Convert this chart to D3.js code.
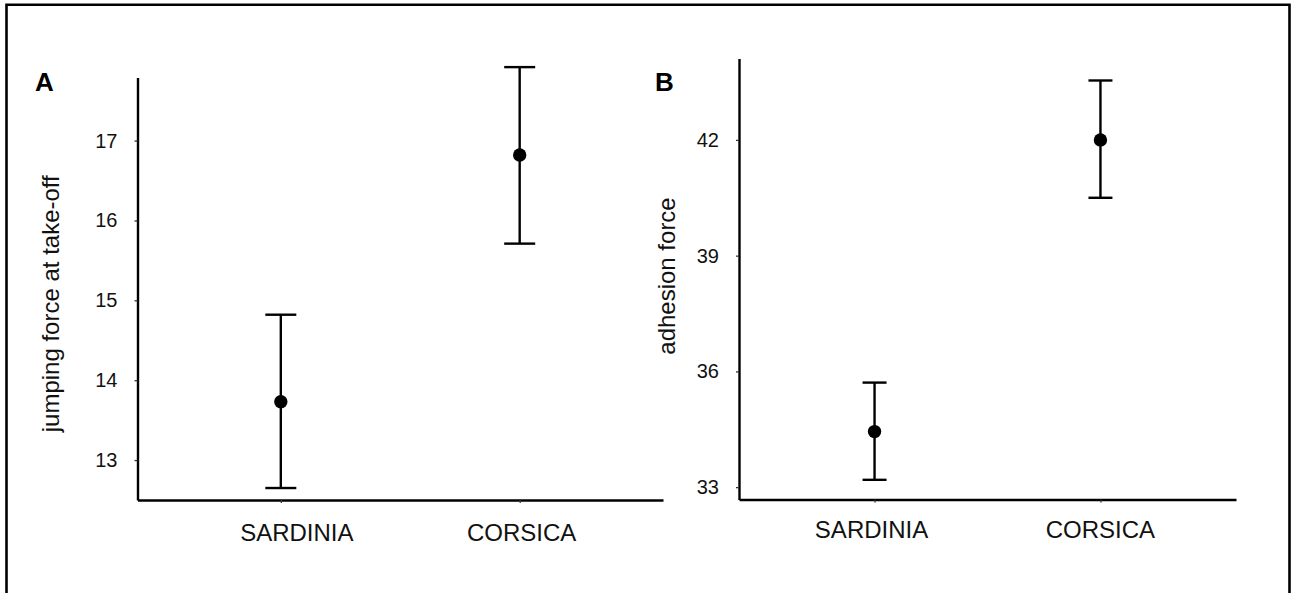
<!DOCTYPE html>
<html>
<head>
<meta charset="utf-8">
<script src="https://cdn.jsdelivr.net/npm/d3@7"></script>
<style>
	body { margin: 0; background: #fff; }
	svg { display: block; font-family: "Liberation Sans", Arial, sans-serif; }
	.axis .domain { stroke: #000; stroke-width: 2.4; }
	.axis .tick line { stroke: #333; stroke-width: 1.3; }
	.axis .tick text { fill: #111; font-size: 20px; }
</style>
</head>
<body>
<div id="graphic"></div>
<script>
// categories shared by both panels
const sites = ['SARDINIA', 'CORSICA'];

// panel A: jumping force at take-off (mean and error bar ends)
const jumpMean = [13.73, 16.82];
const jumpLow = [12.65, 15.71];
const jumpHigh = [14.82, 17.92];
const jumpTicks = [13, 14, 15, 16, 17];

// panel B: adhesion force
const adhMean = [34.44, 42.0];
const adhLow = [33.19, 40.50];
const adhHigh = [35.71, 43.54];
const adhTicks = [33, 36, 39, 42];

const width = 1292, height = 593;

const panels = [
	{
		letter: 'A', title: 'jumping force at take-off',
		mean: jumpMean, low: jumpLow, high: jumpHigh, ticks: jumpTicks,
		domain: [12.5, 17.79],
		xRange: [137.5, 663], yRange: [500, 77.5],
		letterX: 35, titleX: 59, capHalf: 15.5,
		labelY: 541, labelShift: [16, 2]
	},
	{
		letter: 'B', title: 'adhesion force',
		mean: adhMean, low: adhLow, high: adhHigh, ticks: adhTicks,
		domain: [32.68, 44.11],
		xRange: [739, 1236], yRange: [499.5, 58.5],
		letterX: 655, titleX: 675, capHalf: 12,
		labelY: 538, labelShift: [-3, 0]
	}
];

const svg = d3.select('#graphic')
	.append('svg')
	.attr('width', width)
	.attr('height', height);

// frame round the figure (open at the bottom)
svg.append('path')
	.attr('d', `M6.5,${height} V4.8 H1289.5 V${height}`)
	.attr('fill', 'none')
	.attr('stroke', '#000')
	.attr('stroke-width', 2.6);

panels.forEach(function (p) {

	const x = d3.scalePoint()
		.domain(sites)
		.range(p.xRange)
		.padding(0.6);

	const y = d3.scaleLinear()
		.domain(p.domain)
		.range(p.yRange);

	const rows = sites.map((s, i) => ({ site: s, mean: p.mean[i], low: p.low[i], high: p.high[i] }));

	// y axis
	svg.append('g')
		.attr('class', 'axis')
		.attr('transform', `translate(${p.xRange[0]},0)`)
		.call(d3.axisLeft(y).tickValues(p.ticks).tickSize(3).tickSizeOuter(0).tickPadding(17).tickFormat(d3.format('d')));

	// x axis, labels drawn separately below
	svg.append('g')
		.attr('class', 'axis')
		.attr('transform', `translate(0,${p.yRange[0]})`)
		.call(d3.axisBottom(x).tickSize(3).tickSizeOuter(0).tickFormat(''));

	svg.append('g')
		.selectAll('text')
		.data(sites)
		.join('text')
		.attr('x', (d, i) => x(d) + p.labelShift[i])
		.attr('y', p.labelY)
		.attr('text-anchor', 'middle')
		.attr('font-size', 24)
		.attr('fill', '#111')
		.text(d => d);

	// error bars
	const bars = svg.append('g')
		.selectAll('g')
		.data(rows)
		.join('g');

	bars.append('line')
		.attr('x1', d => x(d.site))
		.attr('x2', d => x(d.site))
		.attr('y1', d => y(d.low))
		.attr('y2', d => y(d.high))
		.attr('stroke', '#000')
		.attr('stroke-width', 2.4);

	['low', 'high'].forEach(function (k) {
		bars.append('line')
			.attr('x1', d => x(d.site) - p.capHalf)
			.attr('x2', d => x(d.site) + p.capHalf)
			.attr('y1', d => y(d[k]))
			.attr('y2', d => y(d[k]))
			.attr('stroke', '#000')
			.attr('stroke-width', 2.4);
	});

	bars.append('circle')
		.attr('cx', d => x(d.site))
		.attr('cy', d => y(d.mean))
		.attr('r', 6.7)
		.attr('fill', '#000');

	// y axis title
	const cy = (p.yRange[0] + p.yRange[1]) / 2 + (p.letter === 'A' ? 15 : -3);
	svg.append('text')
		.attr('transform', `translate(${p.titleX},${cy}) rotate(-90)`)
		.attr('text-anchor', 'middle')
		.attr('font-size', 24)
		.attr('fill', '#111')
		.text(p.title);

	// panel letter
	svg.append('text')
		.attr('x', p.letterX)
		.attr('y', 91)
		.attr('font-size', 26)
		.attr('font-weight', 'bold')
		.attr('fill', '#000')
		.text(p.letter);
});
</script>
</body>
</html>
